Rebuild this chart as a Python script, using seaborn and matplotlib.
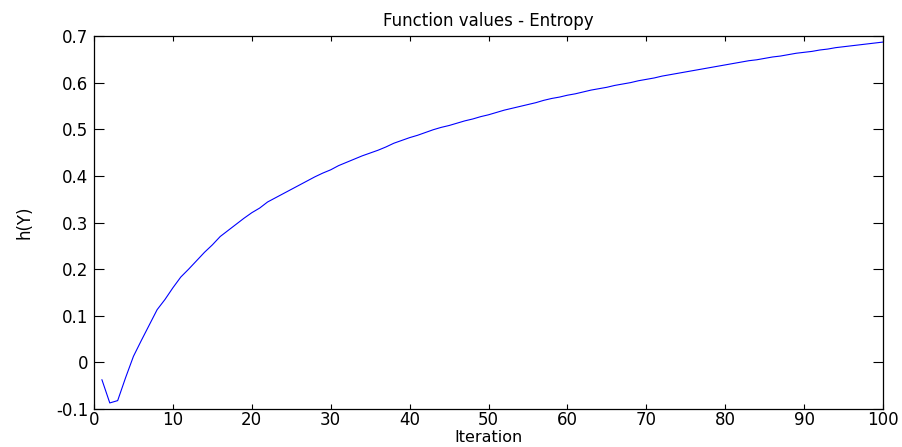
import matplotlib
matplotlib.use("Agg")
import matplotlib.pyplot as plt
import seaborn as sns
import pandas as pd
import numpy as np

iterations = list(range(1, 101))
entropy = [
    -0.037, -0.087, -0.082, -0.033, 0.013, 0.047, 0.080, 0.113, 0.135, 0.160,
    0.183, 0.200, 0.218, 0.236, 0.252, 0.270, 0.283, 0.296, 0.309, 0.321,
    0.331, 0.344, 0.353, 0.362, 0.371, 0.380, 0.389, 0.398, 0.406, 0.413,
    0.422, 0.429, 0.436, 0.443, 0.449, 0.455, 0.462, 0.470, 0.476, 0.482,
    0.487, 0.493, 0.499, 0.504, 0.508, 0.513, 0.518, 0.522, 0.527, 0.531,
    0.536, 0.541, 0.545, 0.549, 0.553, 0.557, 0.562, 0.566, 0.569, 0.573,
    0.576, 0.580, 0.584, 0.587, 0.590, 0.594, 0.597, 0.600, 0.604, 0.607,
    0.610, 0.614, 0.617, 0.620, 0.623, 0.626, 0.629, 0.632, 0.635, 0.638,
    0.641, 0.644, 0.647, 0.649, 0.652, 0.655, 0.657, 0.660, 0.663, 0.665,
    0.667, 0.670, 0.672, 0.675, 0.677, 0.679, 0.681, 0.683, 0.685, 0.687,
]
x_ticks = [0, 10, 20, 30, 40, 50, 60, 70, 80, 90, 100]
y_ticks = [-0.1, 0, 0.1, 0.2, 0.3, 0.4, 0.5, 0.6, 0.7]
y_tick_labels = ["-0.1", "0", "0.1", "0.2", "0.3", "0.4", "0.5", "0.6", "0.7"]

sns.set_style("white")
plt.rcParams["font.family"] = ["DejaVu Sans"]
plt.rcParams["text.color"] = "black"
plt.rcParams["axes.labelcolor"] = "black"

df = pd.DataFrame({"Iteration": iterations, "h(Y)": entropy})

fig = plt.figure(figsize=(9.02, 4.47), dpi=100)
ax = fig.add_axes([94 / 902, 1 - 409 / 447, (883 - 94) / 902, (409 - 36) / 447])

sns.lineplot(data=df, x="Iteration", y="h(Y)", ax=ax, color="#0000ff", linewidth=0.8)

ax.set_xlim(0, 100)
ax.set_ylim(-0.1, 0.7)
ax.set_xticks(x_ticks)
ax.set_xticklabels([str(t) for t in x_ticks])
ax.set_yticks(y_ticks)
ax.set_yticklabels(y_tick_labels)

for s in ax.spines.values():
    s.set_visible(True)
    s.set_color("black")
    s.set_linewidth(0.9)

ax.tick_params(axis="x", direction="in", length=3.5, width=0.8, top=True, bottom=True,
               labelsize=12, pad=1.5, colors="black")
ax.tick_params(axis="y", direction="in", length=7.5, width=0.8, left=True, right=True,
               labelsize=12, pad=4, colors="black")

ax.set_title("Function values - Entropy", fontsize=12, pad=7, color="black")
ax.set_xlabel("Iteration", fontsize=11.5, labelpad=0.5)
ax.set_ylabel("h(Y)", fontsize=12, labelpad=16)

fig.savefig("out.png", dpi=100)
